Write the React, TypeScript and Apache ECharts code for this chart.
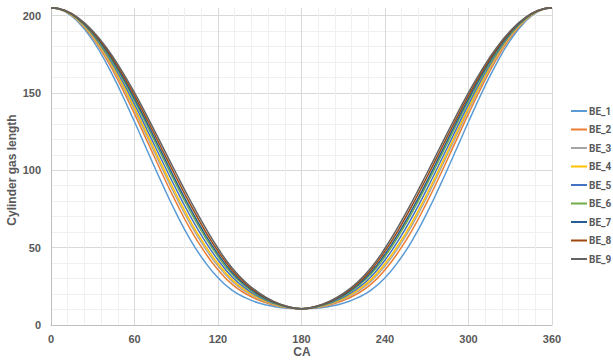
import React, { useEffect, useRef } from "react";
import * as echarts from "echarts";

const CA = [0, 10, 20, 30, 40, 50, 60, 70, 80, 90, 100, 110, 120, 130, 140, 150, 160, 170, 180, 190, 200, 210, 220, 230, 240, 250, 260, 270, 280, 290, 300, 310, 320, 330, 340, 350, 360];

const BE_1 = [205, 202.6, 195.4, 183.9, 168.8, 150.9, 131.3, 111.0, 91.0, 72.1, 55.3, 41.5, 30.5, 22.5, 17.5, 14.0, 12.0, 10.8, 10.5, 10.8, 12.0, 14.0, 17.5, 22.5, 30.5, 41.5, 55.3, 72.1, 91.0, 111.0, 131.3, 150.9, 168.8, 183.9, 195.4, 202.6, 205];
const BE_2 = [205, 202.8, 196.2, 185.6, 171.6, 154.8, 136.4, 117.0, 97.6, 79.1, 62.1, 47.7, 35.7, 26.4, 20.2, 15.8, 12.9, 11.1, 10.5, 11.1, 12.9, 15.8, 20.2, 26.4, 35.7, 47.7, 62.1, 79.1, 97.6, 117.0, 136.4, 154.8, 171.6, 185.6, 196.2, 202.8, 205];
const BE_3 = [205, 202.9, 196.5, 186.3, 172.9, 156.7, 138.8, 119.9, 100.8, 82.4, 65.4, 50.6, 38.1, 28.3, 21.5, 16.6, 13.3, 11.3, 10.5, 11.3, 13.3, 16.6, 21.5, 28.3, 38.1, 50.6, 65.4, 82.4, 100.8, 119.9, 138.8, 156.7, 172.9, 186.3, 196.5, 202.9, 205];
const BE_4 = [205, 202.9, 196.7, 186.8, 173.7, 157.9, 140.3, 121.7, 102.8, 84.5, 67.4, 52.4, 39.7, 29.5, 22.3, 17.1, 13.6, 11.4, 10.5, 11.4, 13.6, 17.1, 22.3, 29.5, 39.7, 52.4, 67.4, 84.5, 102.8, 121.7, 140.3, 157.9, 173.7, 186.8, 196.7, 202.9, 205];
const BE_5 = [205, 203.0, 197.1, 187.6, 174.9, 159.7, 142.6, 124.3, 105.8, 87.6, 70.5, 55.2, 42.0, 31.2, 23.5, 17.9, 14.0, 11.5, 10.5, 11.5, 14.0, 17.9, 23.5, 31.2, 42.0, 55.2, 70.5, 87.6, 105.8, 124.3, 142.6, 159.7, 174.9, 187.6, 197.1, 203.0, 205];
const BE_6 = [205, 203.1, 197.4, 188.3, 176.1, 161.4, 144.8, 127.0, 108.7, 90.7, 73.5, 57.9, 44.3, 32.9, 24.7, 18.7, 14.4, 11.7, 10.5, 11.7, 14.4, 18.7, 24.7, 32.9, 44.3, 57.9, 73.5, 90.7, 108.7, 127.0, 144.8, 161.4, 176.1, 188.3, 197.4, 203.1, 205];
const BE_7 = [205, 203.2, 197.6, 188.8, 177.0, 162.6, 146.3, 128.8, 110.7, 92.7, 75.5, 59.7, 45.8, 34.1, 25.5, 19.2, 14.6, 11.8, 10.5, 11.8, 14.6, 19.2, 25.5, 34.1, 45.8, 59.7, 75.5, 92.7, 110.7, 128.8, 146.3, 162.6, 177.0, 188.8, 197.6, 203.2, 205];
const BE_8 = [205, 203.2, 197.9, 189.4, 178.0, 164.0, 148.2, 131.0, 113.1, 95.3, 78.1, 62.0, 47.7, 35.6, 26.5, 19.9, 15.0, 11.9, 10.5, 11.9, 15.0, 19.9, 26.5, 35.6, 47.7, 62.0, 78.1, 95.3, 113.1, 131.0, 148.2, 164.0, 178.0, 189.4, 197.9, 203.2, 205];
const BE_9 = [205, 203.3, 198.2, 190.0, 179.0, 165.5, 150.1, 133.2, 115.6, 97.9, 80.6, 64.3, 49.6, 37.0, 27.5, 20.5, 15.3, 12.0, 10.5, 12.0, 15.3, 20.5, 27.5, 37.0, 49.6, 64.3, 80.6, 97.9, 115.6, 133.2, 150.1, 165.5, 179.0, 190.0, 198.2, 203.3, 205];

const SERIES_NAMES = ["BE_1", "BE_2", "BE_3", "BE_4", "BE_5", "BE_6", "BE_7", "BE_8", "BE_9"];
const SERIES_VALUES = [BE_1, BE_2, BE_3, BE_4, BE_5, BE_6, BE_7, BE_8, BE_9];
const COLORS = ["#5B9BD5", "#ED7D31", "#A5A5A5", "#FFC000", "#4472C4", "#70AD47", "#255E91", "#9E480E", "#636363"];

const X_TITLE = "CA";
const Y_TITLE = "Cylinder gas length";

export default function App() {
  const ref = useRef<HTMLDivElement>(null);

  useEffect(() => {
    const chart = echarts.init(ref.current!, null, { renderer: "svg" });
    const font = "'Liberation Sans', Arial, sans-serif";
    const labelStyle = { color: "#595959", fontSize: 11, fontWeight: "bold" as const, fontFamily: font };

    chart.setOption({
      animation: false,
      textStyle: { fontFamily: font },
      grid: [
        { left: 51, right: 61, top: 15.5, bottom: 38 },
        { left: 51, right: 61, top: 7.75, bottom: 38 },
      ],
      xAxis: [
        { gridIndex: 0, type: "value", min: 0, max: 360, show: false },
        {
          gridIndex: 1,
          type: "value",
          min: 0,
          max: 360,
          interval: 60,
          axisLine: { show: true, lineStyle: { color: "#bfbfbf", width: 1 } },
          axisTick: { show: false },
          axisLabel: { ...labelStyle, margin: 8 },
          splitLine: { show: true, lineStyle: { color: "#d9d9d9", width: 1 } },
          minorTick: { show: false, splitNumber: 5 },
          minorSplitLine: { show: true, lineStyle: { color: "#f0f0f0", width: 1 } },
        },
      ],
      yAxis: [
        {
          gridIndex: 0,
          type: "value",
          min: 0,
          max: 200,
          interval: 50,
          axisLine: { show: false },
          axisTick: { show: false },
          axisLabel: { ...labelStyle, margin: 10 },
          splitLine: { show: true, lineStyle: { color: "#d9d9d9", width: 1 } },
          minorTick: { show: false, splitNumber: 5 },
          minorSplitLine: { show: true, lineStyle: { color: "#f0f0f0", width: 1 } },
        },
        {
          gridIndex: 1,
          type: "value",
          min: 0,
          max: 205,
          axisLine: { show: true, lineStyle: { color: "#bfbfbf", width: 1 } },
          axisTick: { show: false },
          axisLabel: { show: false },
          splitLine: { show: false },
        },
      ],
      legend: {
        orient: "vertical",
        left: 571,
        top: 105,
        padding: 0,
        icon: "rect",
        itemWidth: 16,
        itemHeight: 2,
        itemGap: 6.5,
        textStyle: {
          color: "#595959",
          fontSize: 10,
          fontWeight: "bold",
          fontFamily: "Roboto, sans-serif",
          lineHeight: 12,
          padding: [0, 0, 0, -3],
        },
        data: SERIES_NAMES,
      },
      graphic: [
        {
          type: "text",
          x: 302,
          y: 352,
          style: { text: X_TITLE, align: "center", verticalAlign: "middle", fill: "#595959", font: `bold 12px ${font}` },
        },
        {
          type: "text",
          x: 12,
          y: 170,
          rotation: Math.PI / 2,
          style: { text: Y_TITLE, align: "center", verticalAlign: "middle", fill: "#595959", font: `bold 12px ${font}` },
        },
      ],
      series: SERIES_NAMES.map((name, i) => ({
        name,
        type: "line",
        xAxisIndex: 1,
        yAxisIndex: 1,
        symbol: "none",
        smooth: true,
        color: COLORS[i],
        lineStyle: { width: 1.5, color: COLORS[i] },
        data: CA.map((ca, j) => [ca, SERIES_VALUES[i][j]]),
      })),
    });

    return () => chart.dispose();
  }, []);

  return <div ref={ref} style={{ position: "absolute", left: 0, top: 0, width: 613, height: 363 }} />;
}
